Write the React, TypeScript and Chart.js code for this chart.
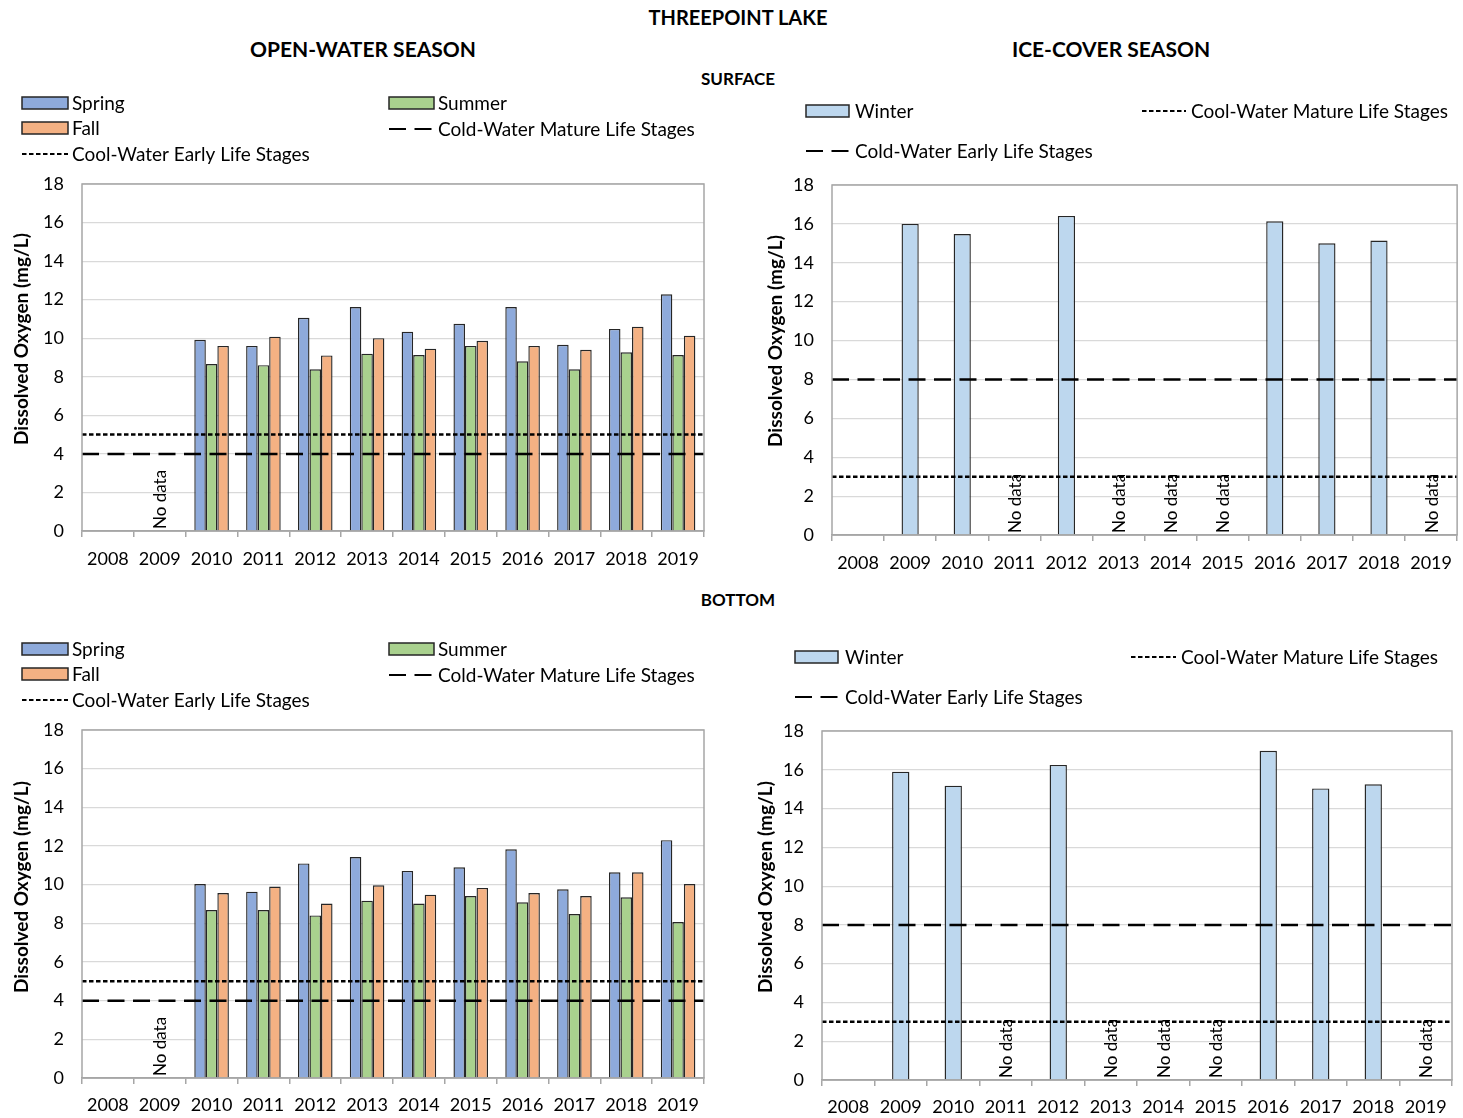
import React, { useEffect, useRef } from 'react';
import { Chart, registerables } from 'chart.js';

Chart.register(...registerables);

// ---------- DATA ----------
const years = ['2008', '2009', '2010', '2011', '2012', '2013', '2014', '2015', '2016', '2017', '2018', '2019'];

const surfaceSpring = [null, null, 9.92, 9.6, 11.06, 11.62, 10.34, 10.75, 11.62, 9.66, 10.48, 12.28];
const surfaceSummer = [null, null, 8.66, 8.6, 8.39, 9.2, 9.13, 9.6, 8.8, 8.39, 9.27, 9.13];
const surfaceFall = [null, null, 9.6, 10.08, 9.11, 10.0, 9.46, 9.87, 9.6, 9.4, 10.6, 10.13];
const surfaceWinter = [null, 16.0, 15.48, null, 16.41, null, null, null, 16.13, 15.0, 15.14, null];

const bottomSpring = [null, null, 10.03, 9.64, 11.1, 11.43, 10.71, 10.9, 11.83, 9.76, 10.64, 12.3];
const bottomSummer = [null, null, 8.69, 8.69, 8.41, 9.17, 9.02, 9.41, 9.09, 8.48, 9.35, 8.07];
const bottomFall = [null, null, 9.57, 9.9, 9.02, 9.97, 9.48, 9.83, 9.57, 9.41, 10.64, 10.03];
const bottomWinter = [null, 15.9, 15.18, null, 16.25, null, null, null, 16.98, 15.04, 15.25, null];

// guideline values (mg/L)
const openCoolWaterEarly = 5;
const openColdWaterMature = 4;
const iceCoolWaterMature = 3;
const iceColdWaterEarly = 8;

const openNoData = ['2009'];
const iceNoData = ['2011', '2013', '2014', '2015', '2019'];
const NO_DATA_TEXT = 'No data';

const yTicksMin = 0;
const yTicksMax = 18;
const yTicksStep = 2;

const Y_TITLE = 'Dissolved Oxygen (mg/L)';

// ---------- STYLE ----------
const FONT = 'Lato, "Open Sans", "DejaVu Sans", sans-serif';
const C_SPRING = '#8eaadb';
const C_SUMMER = '#a9d18e';
const C_FALL = '#f4b183';
const C_WINTER = '#bdd7ee';
const DOTTED = [4.5, 2.5];
const DASHED = [17, 8.5];

type LegendItem = { kind: 'bar' | 'line'; i: number; x: number; y: number; w: number; tx: number };
type GuideLine = { label: string; value: number; dash: number[] };

const decorPlugin = {
  id: 'decor',
  afterDatasetsDraw(chart: any, _args: any, opts: any) {
    const ctx = chart.ctx as CanvasRenderingContext2D;
    const { left, right } = chart.chartArea;
    const ys = chart.scales.y;
    ctx.save();
    (opts.lines || []).forEach((l: GuideLine) => {
      const y = ys.getPixelForValue(l.value);
      ctx.strokeStyle = '#000';
      ctx.lineWidth = 2.5;
      ctx.setLineDash(l.dash);
      ctx.beginPath();
      ctx.moveTo(left, y);
      ctx.lineTo(right, y);
      ctx.stroke();
    });
    ctx.restore();
  },
  afterDraw(chart: any, _args: any, opts: any) {
    const ctx = chart.ctx as CanvasRenderingContext2D;
    const { left, top, right, bottom } = chart.chartArea;
    const ox = opts.ox || 0;
    const oy = opts.oy || 0;
    ctx.save();
    // plot border
    ctx.strokeStyle = '#a6a6a6';
    ctx.lineWidth = 1.5;
    ctx.strokeRect(left, top, right - left, bottom - top);

    // No data labels
    const xs = chart.scales.x;
    ctx.fillStyle = '#000';
    ctx.font = `17px ${FONT}`;
    (opts.noData || []).forEach((lbl: string) => {
      const i = chart.data.labels.indexOf(lbl);
      if (i < 0) return;
      const x = xs.getPixelForValue(i);
      ctx.save();
      ctx.translate(x + 1, bottom - 2);
      ctx.rotate(-Math.PI / 2);
      ctx.textAlign = 'left';
      ctx.textBaseline = 'middle';
      ctx.fillText(NO_DATA_TEXT, 0, 0);
      ctx.restore();
    });

    // y axis title
    ctx.save();
    ctx.translate(opts.titleX - ox, opts.titleY - oy);
    ctx.rotate(-Math.PI / 2);
    ctx.font = `bold 19px ${FONT}`;
    ctx.textAlign = 'center';
    ctx.textBaseline = 'middle';
    ctx.fillStyle = '#000';
    ctx.fillText(opts.title, 0, 0);
    ctx.restore();

    // legend
    (opts.items || []).forEach((it: LegendItem) => {
      const x = it.x - ox;
      const y = it.y - oy;
      let label = '';
      if (it.kind === 'line') {
        const l: GuideLine = opts.lines[it.i];
        label = l.label;
        ctx.save();
        ctx.strokeStyle = '#000';
        ctx.lineWidth = 2.2;
        ctx.setLineDash(l.dash);
        ctx.beginPath();
        ctx.moveTo(x, y);
        ctx.lineTo(x + it.w, y);
        ctx.stroke();
        ctx.restore();
      } else {
        const d = chart.data.datasets[it.i];
        label = d.label;
        ctx.fillStyle = d.backgroundColor;
        ctx.fillRect(x, y - 6, it.w, 12);
        ctx.strokeStyle = '#262626';
        ctx.lineWidth = 1.5;
        ctx.strokeRect(x, y - 6, it.w, 12);
      }
      ctx.fillStyle = '#000';
      ctx.font = `19px ${FONT}`;
      ctx.textAlign = 'left';
      ctx.textBaseline = 'middle';
      ctx.fillText(label, it.tx - ox, y + 1);
    });
    ctx.restore();
  },
};

type PanelSpec = {
  left: number;
  top: number;
  width: number;
  height: number;
  plotLeft: number;
  plotTop: number;
  plotRight: number;
  plotBottom: number;
  titleX: number;
  titleY: number;
  xPad: number;
  bars: { label: string; data: (number | null)[]; color: string }[];
  lines: GuideLine[];
  catPct: number;
  noData: string[];
  legend: LegendItem[];
};

function Panel({ spec }: { spec: PanelSpec }) {
  const ref = useRef<HTMLCanvasElement>(null);
  useEffect(() => {
    if (!ref.current) return;
    const s = spec;
    const datasets: any[] = s.bars.map((b) => ({
      type: 'bar',
      label: b.label,
      data: b.data,
      backgroundColor: b.color,
      borderColor: '#262626',
      borderWidth: 1.4,
      barPercentage: 1,
      categoryPercentage: s.catPct,
    }));
    const padLeft = 4;
    const yW = s.plotLeft - s.left - padLeft;
    const xH = s.top + s.height - s.plotBottom;
    const chart = new Chart(ref.current, {
      type: 'bar',
      data: { labels: years, datasets },
      options: {
        responsive: false,
        animation: false,
        events: [],
        layout: {
          padding: {
            left: padLeft,
            top: s.plotTop - s.top,
            right: s.left + s.width - s.plotRight,
            bottom: 0,
          },
        },
        plugins: {
          legend: { display: false },
          tooltip: { enabled: false },
          decor: {
            items: s.legend,
            noData: s.noData,
            lines: s.lines,
            ox: s.left,
            oy: s.top,
            title: Y_TITLE,
            titleX: s.titleX,
            titleY: s.titleY,
          },
        } as any,
        scales: {
          x: {
            type: 'category',
            offset: true,
            grid: {
              offset: true,
              drawOnChartArea: false,
              drawTicks: true,
              tickLength: 6,
              color: '#a6a6a6',
              lineWidth: 1.5,
            },
            border: { color: '#a6a6a6', width: 1.5 },
            ticks: {
              font: { family: FONT, size: 18 },
              color: '#000',
              padding: s.xPad,
              maxRotation: 0,
              autoSkip: false,
            },
            afterFit: (sc: any) => {
              sc.height = xH;
            },
          },
          y: {
            min: yTicksMin,
            max: yTicksMax,
            ticks: {
              stepSize: yTicksStep,
              font: { family: FONT, size: 18 },
              color: '#000',
              padding: 18,
            },
            grid: { color: '#d9d9d9', lineWidth: 1.2, drawTicks: false },
            border: { display: false },
            afterFit: (sc: any) => {
              sc.width = yW;
            },
          },
        } as any,
      },
      plugins: [decorPlugin as any],
    });
    return () => chart.destroy();
  }, [spec]);
  return (
    <canvas
      ref={ref}
      width={spec.width}
      height={spec.height}
      style={{ position: 'absolute', left: spec.left, top: spec.top, width: spec.width, height: spec.height }}
    />
  );
}

const openLegend = (dy: number): LegendItem[] => [
  { kind: 'bar', i: 0, x: 22, y: 103 + dy, w: 46, tx: 72 },
  { kind: 'bar', i: 1, x: 389, y: 103 + dy, w: 45, tx: 438 },
  { kind: 'bar', i: 2, x: 22, y: 128 + dy, w: 46, tx: 72 },
  { kind: 'line', i: 1, x: 389, y: 129 + dy, w: 45, tx: 438 },
  { kind: 'line', i: 0, x: 22, y: 154 + dy, w: 46, tx: 72 },
];

const openLines: GuideLine[] = [
  { label: 'Cool-Water Early Life Stages', value: openCoolWaterEarly, dash: DOTTED },
  { label: 'Cold-Water Mature Life Stages', value: openColdWaterMature, dash: DASHED },
];
const iceLines: GuideLine[] = [
  { label: 'Cool-Water Mature Life Stages', value: iceCoolWaterMature, dash: DOTTED },
  { label: 'Cold-Water Early Life Stages', value: iceColdWaterEarly, dash: DASHED },
];

const specs: PanelSpec[] = [
  {
    left: 0, top: 90, width: 730, height: 490,
    plotLeft: 82, plotTop: 184, plotRight: 704, plotBottom: 531,
    titleX: 22, titleY: 339, xPad: 11,
    bars: [
      { label: 'Spring', data: surfaceSpring, color: C_SPRING },
      { label: 'Summer', data: surfaceSummer, color: C_SUMMER },
      { label: 'Fall', data: surfaceFall, color: C_FALL },
    ],
    lines: openLines,
    catPct: 0.667,
    noData: openNoData,
    legend: openLegend(0),
  },
  {
    left: 730, top: 90, width: 733, height: 490,
    plotLeft: 832, plotTop: 185, plotRight: 1462, plotBottom: 535,
    titleX: 776, titleY: 341, xPad: 11,
    bars: [{ label: 'Winter', data: surfaceWinter, color: C_WINTER }],
    lines: iceLines,
    catPct: 0.33,
    noData: iceNoData,
    legend: [
      { kind: 'bar', i: 0, x: 806, y: 111, w: 43, tx: 855 },
      { kind: 'line', i: 0, x: 1142, y: 111, w: 44, tx: 1191 },
      { kind: 'line', i: 1, x: 806, y: 151, w: 43, tx: 855 },
    ],
  },
  {
    left: 0, top: 636, width: 730, height: 482,
    plotLeft: 82, plotTop: 730, plotRight: 704, plotBottom: 1078,
    titleX: 22, titleY: 887, xPad: 10,
    bars: [
      { label: 'Spring', data: bottomSpring, color: C_SPRING },
      { label: 'Summer', data: bottomSummer, color: C_SUMMER },
      { label: 'Fall', data: bottomFall, color: C_FALL },
    ],
    lines: openLines,
    catPct: 0.667,
    noData: openNoData,
    legend: openLegend(546),
  },
  {
    left: 730, top: 636, width: 733, height: 482,
    plotLeft: 822, plotTop: 731, plotRight: 1452, plotBottom: 1080,
    titleX: 766, titleY: 887, xPad: 10,
    bars: [{ label: 'Winter', data: bottomWinter, color: C_WINTER }],
    lines: iceLines,
    catPct: 0.33,
    noData: iceNoData,
    legend: [
      { kind: 'bar', i: 0, x: 795, y: 657, w: 43, tx: 845 },
      { kind: 'line', i: 0, x: 1131, y: 657, w: 45, tx: 1181 },
      { kind: 'line', i: 1, x: 795, y: 697, w: 43, tx: 845 },
    ],
  },
];

const titles = [
  { text: 'THREEPOINT LAKE', cx: 738, cy: 17, size: 20 },
  { text: 'OPEN-WATER SEASON', cx: 363, cy: 49, size: 21 },
  { text: 'ICE-COVER SEASON', cx: 1111, cy: 49, size: 21 },
  { text: 'SURFACE', cx: 738, cy: 79, size: 17 },
  { text: 'BOTTOM', cx: 738, cy: 600, size: 17 },
];

export default function App() {
  return (
    <div
      style={{
        position: 'fixed',
        left: 0,
        top: 0,
        width: 1463,
        height: 1118,
        background: '#fff',
        overflow: 'hidden',
        fontFamily: FONT,
      }}
    >
      {titles.map((t) => (
        <div
          key={t.text}
          style={{
            position: 'absolute',
            left: t.cx - 300,
            width: 600,
            top: t.cy,
            transform: 'translateY(-50%)',
            textAlign: 'center',
            fontWeight: 'bold',
            fontSize: t.size,
            lineHeight: 1.2,
            color: '#000',
          }}
        >
          {t.text}
        </div>
      ))}
      {specs.map((s, i) => (
        <Panel key={i} spec={s} />
      ))}
    </div>
  );
}
